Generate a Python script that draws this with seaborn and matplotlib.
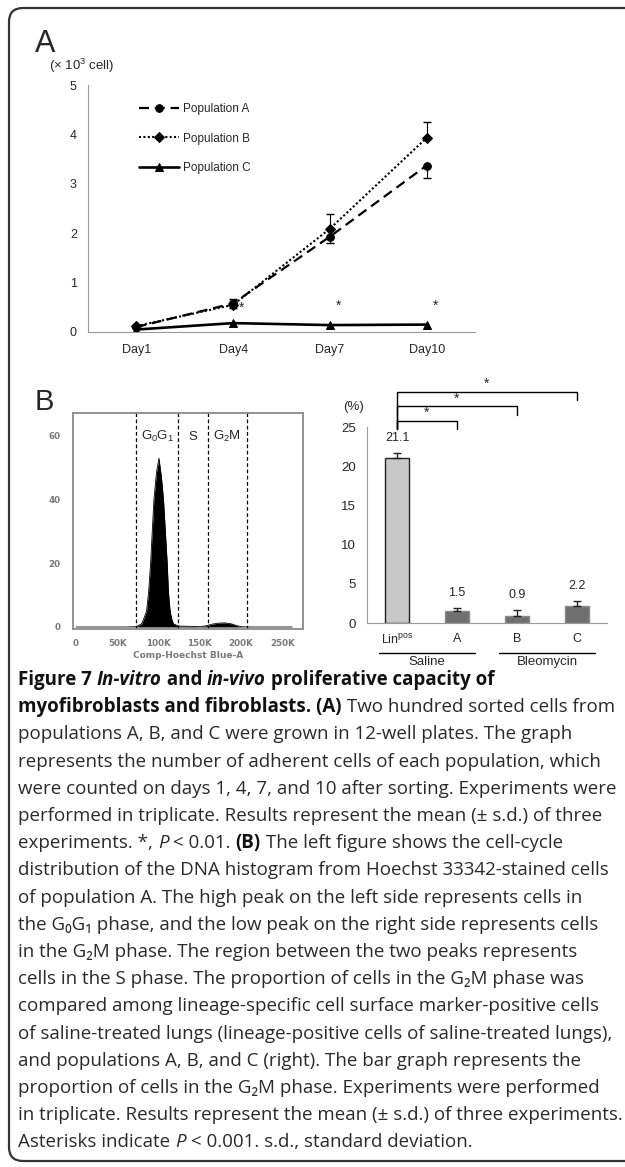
import numpy as np
import pandas as pd
import matplotlib
matplotlib.use("Agg")
import matplotlib.pyplot as plt
import seaborn as sns
from matplotlib.patches import FancyBboxPatch
from matplotlib.lines import Line2D
from matplotlib.font_manager import FontProperties
from matplotlib.transforms import IdentityTransform

# ---- panel A: cell counts (x 10^3 cells)
days = ["Day1", "Day4", "Day7", "Day10"]
pop_a = [0.10, 0.58, 1.93, 3.37]
pop_a_sd = [0.02, 0.10, 0.13, 0.25]
pop_b = [0.12, 0.55, 2.09, 3.93]
pop_b_sd = [0.02, 0.12, 0.30, 0.33]
pop_c = [0.05, 0.18, 0.14, 0.15]
star_days = [1, 2, 3]

# ---- panel B left: DNA histogram (Comp-Hoechst Blue-A, in K)
hist_x = [0, 60, 73, 79.5, 82, 85.5, 88, 90.4, 94.4, 97.5, 100.5, 103.5, 106, 110.5,
          112, 114, 116, 118, 124, 140, 150, 158, 165, 172, 180, 188, 195, 200, 210, 262]
hist_count = [0, 0, 0.1, 1, 2.5, 5, 11, 20, 40, 48.5, 53, 47, 40, 20,
              11, 5, 2.5, 1, 0.3, 0.2, 0.1, 0.4, 0.9, 1.2, 1.3, 1.0, 0.4, 0.1, 0, 0]
gates = [73, 124, 160, 207]
gate_names = ["G$_0$G$_1$", "S", "G$_2$M"]

# ---- panel B right: % cells in G2M
bar_labels = ["Lin$^{\\mathrm{pos}}$", "A", "B", "C"]
g2m_pct = [21.1, 1.5, 0.9, 2.2]
g2m_sd = [0.6, 0.45, 0.75, 0.6]
bar_groups = [("Saline", 0, 1), ("Bleomycin", 2, 3)]
sig_pairs = [(0, 1), (0, 2), (0, 3)]

caption = [
    [("Figure 7 ", "b"), ("In-vitro", "bi"), (" and ", "b"), ("in-vivo", "bi"), (" proliferative capacity of", "b")],
    [("myofibroblasts and fibroblasts. (A)", "b"), (" Two hundred sorted cells from", "n")],
    [("populations A, B, and C were grown in 12-well plates. The graph", "n")],
    [("represents the number of adherent cells of each population, which", "n")],
    [("were counted on days 1, 4, 7, and 10 after sorting. Experiments were", "n")],
    [("performed in triplicate. Results represent the mean (\u00b1 s.d.) of three", "n")],
    [("experiments. *, ", "n"), ("P", "i"), (" < 0.01. ", "n"), ("(B)", "b"), (" The left figure shows the cell-cycle", "n")],
    [("distribution of the DNA histogram from Hoechst 33342-stained cells", "n")],
    [("of population A. The high peak on the left side represents cells in", "n")],
    [("the G\u2080G\u2081 phase, and the low peak on the right side represents cells", "n")],
    [("in the G\u2082M phase. The region between the two peaks represents", "n")],
    [("cells in the S phase. The proportion of cells in the G\u2082M phase was", "n")],
    [("compared among lineage-specific cell surface marker-positive cells", "n")],
    [("of saline-treated lungs (lineage-positive cells of saline-treated lungs),", "n")],
    [("and populations A, B, and C (right). The bar graph represents the", "n")],
    [("proportion of cells in the G\u2082M phase. Experiments were performed", "n")],
    [("in triplicate. Results represent the mean (\u00b1 s.d.) of three experiments.", "n")],
    [("Asterisks indicate ", "n"), ("P", "i"), (" < 0.001. s.d., standard deviation.", "n")],
]

sns.set_style("white")
plt.rcParams["font.family"] = ["Liberation Sans", "DejaVu Sans"]
plt.rcParams["mathtext.fontset"] = "custom"
plt.rcParams["mathtext.rm"] = "Liberation Sans"
plt.rcParams["mathtext.it"] = "Liberation Sans:italic"

W, H = 625, 1167
fig = plt.figure(figsize=(W / 100, H / 100), dpi=100)
fig.patch.set_facecolor("white")


def px(x, y):
    return (x / W, 1 - y / H)


def rect(x0, y0, x1, y1):
    return [x0 / W, 1 - y1 / H, (x1 - x0) / W, (y1 - y0) / H]


AX_GRAY = "#9a9a9a"

# frame
frame = FancyBboxPatch((9, H - 1161), 680, 1153, boxstyle="round,pad=0,rounding_size=14",
                       transform=IdentityTransform(), fill=False, ec="#333333", lw=1.6)
fig.add_artist(frame)

# ================= panel A
axA = fig.add_axes(rect(88, 85, 475, 332))
styles = [("Population A", pop_a, "o", 5.5, (0, (4.5, 2.6)), 1.6),
          ("Population B", pop_b, "D", 5.0, (0, (1, 1.1)), 1.5),
          ("Population C", pop_c, "^", 6.0, "-", 1.9)]
for name, vals, mk, ms, ls, lw in styles:
    sns.lineplot(x=days, y=vals, ax=axA, color="black", marker=mk, markersize=ms,
                 markeredgecolor="black", linestyle=ls, linewidth=lw, label=name, sort=False)
axA.errorbar(days, pop_a, yerr=[pop_a_sd, [0] * 4], fmt="none", ecolor="black", elinewidth=0.8, capsize=3)
axA.errorbar(days, pop_b, yerr=[[0] * 4, pop_b_sd], fmt="none", ecolor="black", elinewidth=0.8, capsize=3)
for i, d in enumerate(star_days):
    axA.text(d + 0.09, [0.49, 0.53, 0.53][i], "*", ha="center", va="center", fontsize=10)

axA.set_xlim(-0.5, 3.5)
axA.set_ylim(0, 5)
axA.set_yticks(range(6))
axA.set_xticks([-0.5, 0.5, 1.5, 2.5, 3.5], minor=True)
axA.tick_params(axis="x", which="major", length=0, pad=9, labelsize=9)
axA.tick_params(axis="x", which="minor", length=4, color=AX_GRAY, direction="out", width=0.8)
axA.tick_params(axis="y", length=3, color=AX_GRAY, direction="out", width=0.8, pad=5, labelsize=9)
for s in ["top", "right"]:
    axA.spines[s].set_visible(False)
for s in ["left", "bottom"]:
    axA.spines[s].set_color(AX_GRAY)
    axA.spines[s].set_linewidth(0.8)
axA.set_xlabel("")
axA.set_ylabel("")
h, l = axA.get_legend_handles_labels()
axA.legend(h, l, loc="upper left", bbox_to_anchor=px(133, 97), bbox_transform=fig.transFigure,
           frameon=False, borderpad=0, handlelength=3.4, handletextpad=0.35, labelspacing=1.5,
           fontsize=8.5)

fig.text(*px(35, 52), "A", fontsize=22, va="baseline")
fig.text(*px(82, 66), "(\u00d7 10$^3$ cell)", fontsize=9.5, ha="center", va="center")

# ================= panel B left: histogram
axH = fig.add_axes(rect(73, 413, 303, 629))
hx = np.array(hist_x) * 1000
axH.fill_between(hx, hist_count, color="black", lw=0)
sns.lineplot(x=hx, y=hist_count, ax=axH, color="black", lw=0.6, sort=False)
for g in gates:
    axH.axvline(g * 1000, color="black", lw=0.9, ls=(0, (3, 2)))
for name, x0, x1 in zip(gate_names, gates[:-1], gates[1:]):
    axH.text((x0 + x1) / 2 * 1000, 59.7, name, ha="center", va="center", fontsize=9.5)
axH.set_xlim(-3.6e3, 275e3)
axH.set_ylim(-0.63, 67.2)
axH.set_xticks(np.arange(0, 250001, 50000))
axH.set_xticklabels(["0", "50K", "100K", "150K", "200K", "250K"])
axH.set_xticks(np.arange(0, 270001, 10000), minor=True)
axH.set_yticks([0, 20, 40, 60])
axH.set_yticks(np.arange(0, 66, 5), minor=True)
axH.tick_params(which="major", direction="out", length=4, width=0.8, color="#888888",
                labelcolor="#7a7a7a", labelsize=6.3, pad=3)
axH.tick_params(axis="y", which="major", pad=5)
axH.tick_params(which="minor", direction="out", length=2, width=0.7, color="#888888")
for lbl in axH.get_xticklabels() + axH.get_yticklabels():
    lbl.set_fontweight("bold")
    lbl.set_family(["DejaVu Sans"])
for s in axH.spines.values():
    s.set_color("#8a8a8a")
    s.set_linewidth(1.3)
axH.set_xlabel("Comp-Hoechst Blue-A", fontsize=6.5, color="#7a7a7a", fontweight="bold",
               family=["DejaVu Sans"], labelpad=2)
axH.set_ylabel("")
fig.text(*px(35, 410), "B", fontsize=21, va="baseline")

# ================= panel B right: bars
axB = fig.add_axes(rect(367, 427, 607, 623))
bar_colors = ["#c8c8c8", "#6f6f6f", "#6f6f6f", "#6f6f6f"]
sns.barplot(x=bar_labels, y=g2m_pct, hue=bar_labels, palette=bar_colors, legend=False,
            width=0.4, ax=axB, saturation=1)
for i, p in enumerate(axB.patches):
    p.set_edgecolor("#222222" if i == 0 else "#8a8a8a")
    p.set_linewidth(1.0)
axB.errorbar(range(4), g2m_pct, yerr=[[0] * 4, g2m_sd], fmt="none", ecolor="#222222",
             elinewidth=1.0, capsize=3)
for i, (v, sd) in enumerate(zip(g2m_pct, g2m_sd)):
    axB.text(i, v + sd + 1.9, f"{v}", ha="center", va="center", fontsize=9)
axB.set_xlim(-0.5, 3.5)
axB.set_ylim(0, 25)
axB.set_yticks(range(0, 26, 5))
axB.set_xticks([-0.5, 0.5, 1.5, 2.5, 3.5], minor=True)
axB.tick_params(axis="x", which="major", length=0, pad=7, labelsize=9)
axB.tick_params(axis="x", which="minor", length=4, color=AX_GRAY, direction="out", width=0.8)
axB.tick_params(axis="y", length=3, color=AX_GRAY, direction="out", width=0.8, pad=5, labelsize=9.5)
for s in ["top", "right"]:
    axB.spines[s].set_visible(False)
for s in ["left", "bottom"]:
    axB.spines[s].set_color(AX_GRAY)
    axB.spines[s].set_linewidth(0.8)
axB.set_xlabel("")
axB.set_ylabel("")
fig.text(*px(353, 407), "(%)", fontsize=9.5, ha="center", va="center")

xt = axB.get_xaxis_transform()
for name, i0, i1 in bar_groups:
    axB.add_line(Line2D([i0 - 0.3, i1 + 0.3], [-0.153, -0.153], transform=xt, color="black",
                        lw=1.0, clip_on=False))
    axB.text((i0 + i1) / 2, -0.2, name, transform=xt, ha="center", va="center", fontsize=9.5)

for k, (a, b) in enumerate(sig_pairs):
    top = 25.8 + k * 1.85
    axB.plot([a, a, b, b], [24.75, top, top, top - 1.1], color="black", lw=1.0, clip_on=False)
    axB.text((a + b) / 2, top + 0.95, "*", ha="center", va="center", fontsize=10)

# ================= caption
renderer = fig.canvas.get_renderer()


def cap_font(style, size):
    return FontProperties(family=["Open Sans", "DejaVu Sans"],
                          weight="bold" if "b" in style else "normal",
                          style="italic" if "i" in style else "normal", size=size)


def text_w(s, prop):
    a = renderer.get_text_width_height_descent("|" + s + "|", prop, ismath=False)[0]
    b = renderer.get_text_width_height_descent("||", prop, ismath=False)[0]
    return a - b


def line_w(segs, size):
    return sum(text_w(s, cap_font(st, size)) for s, st in segs)


cap_size = 12 * 601 / max(line_w(segs, 12) for segs in caption)

for row, segs in enumerate(caption):
    x = 18
    y = 685 + row * 27.2
    for s, st in segs:
        prop = cap_font(st, cap_size)
        fig.text(x / W, 1 - y / H, s, fontproperties=prop, va="baseline", ha="left",
                 color="#111111" if "b" in st else "#2a2a2a")
        x += text_w(s, prop)

fig.savefig("out.png", dpi=100)
